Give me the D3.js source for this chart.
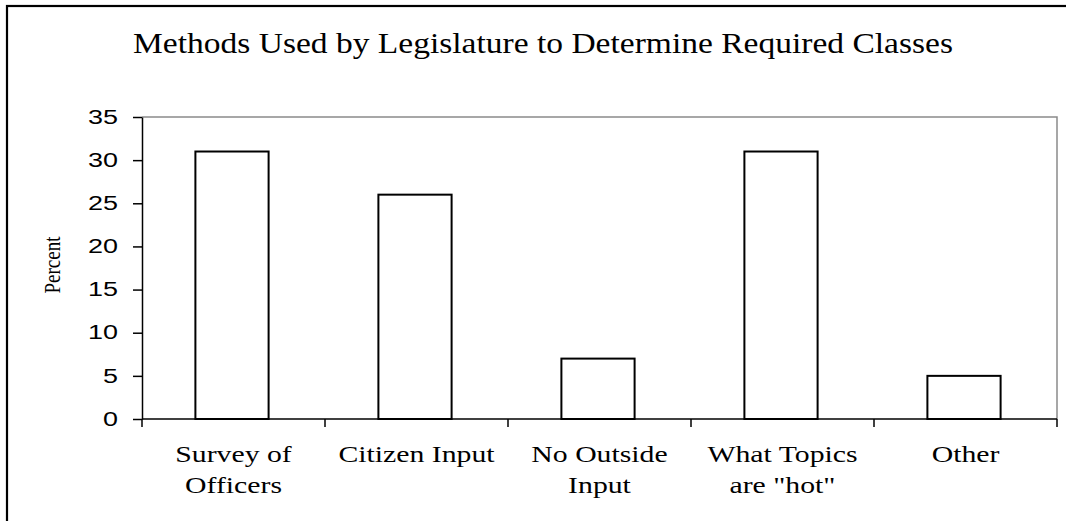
<!DOCTYPE html>
<html>
<head>
<meta charset="utf-8">
<script src="https://cdn.jsdelivr.net/npm/d3@7"></script>
<style>
html,body{margin:0;padding:0;background:#fff;}
svg{display:block;}
</style>
</head>
<body>
<svg id="chart" width="1066" height="521"></svg>
<script>
const categories = [["Survey of","Officers"],["Citizen Input"],["No Outside","Input"],["What Topics","are \"hot\""],["Other"]];
const values = [31, 26, 7, 31, 5];
const yTicks = [0, 5, 10, 15, 20, 25, 30, 35];
const title = "Methods Used by Legislature to Determine Required Classes";
const yLabel = "Percent";

const svg = d3.select("#chart");
const m = {left: 142, right: 1057, top: 117, bottom: 419};

// outer border
svg.append("rect").attr("x", 7).attr("y", 6).attr("width", 1200).attr("height", 700)
  .attr("fill", "#fff").attr("stroke", "#000").attr("stroke-width", 2.2);

const keys = categories.map((c, i) => i);
const x = d3.scaleBand().domain(keys).range([m.left, m.right]).paddingInner(0.6).paddingOuter(0.3);
const y = d3.scaleLinear().domain([0, 35]).range([m.bottom, m.top]);

// plot frame (top & right gray)
svg.append("path")
  .attr("d", `M${m.left},${m.top}H${m.right}V${m.bottom}`)
  .attr("fill", "none").attr("stroke", "#8a8a8a").attr("stroke-width", 1.5);

// bars
svg.append("g").selectAll("rect").data(values).join("rect")
  .attr("x", (d, i) => x(i) - 1.5)
  .attr("y", d => y(d))
  .attr("width", x.bandwidth())
  .attr("height", d => y(0) - y(d))
  .attr("fill", "#fff").attr("stroke", "#000").attr("stroke-width", 2);

// y axis
const yAxis = svg.append("g").attr("transform", `translate(${m.left},0)`)
  .call(d3.axisLeft(y).tickValues(yTicks).tickSize(9).tickPadding(15).tickSizeOuter(0));
yAxis.select(".domain").attr("stroke", "#000").attr("stroke-width", 1.5);
yAxis.selectAll(".tick line").attr("stroke", "#000").attr("stroke-width", 1.5);
yAxis.selectAll(".tick text")
  .attr("font-family", "'Liberation Sans', Arial, sans-serif")
  .attr("font-size", 19.5).attr("fill", "#000")
  .attr("textLength", d => String(d).length * 15)
  .attr("lengthAdjust", "spacingAndGlyphs");

// x axis (ticks at category boundaries)
const step = x.step();
const bounds = d3.range(categories.length + 1).map(i => m.left + i * step);
const xg = svg.append("g");
xg.append("line").attr("x1", m.left).attr("x2", m.right).attr("y1", m.bottom).attr("y2", m.bottom)
  .attr("stroke", "#000").attr("stroke-width", 1.5);
xg.selectAll("line.t").data(bounds).join("line").attr("class", "t")
  .attr("x1", d => d).attr("x2", d => d).attr("y1", m.bottom).attr("y2", m.bottom + 8)
  .attr("stroke", "#000").attr("stroke-width", 1.5);

// category labels
const labG = svg.append("g");
categories.forEach((lines, i) => {
  const cx = x(i) + x.bandwidth() / 2;
  lines.forEach((ln, j) => {
    labG.append("text")
      .attr("transform", `translate(${cx},${462 + j * 31}) scale(1.24,1)`)
      .attr("text-anchor", "middle")
      .attr("font-family", "'Liberation Serif', 'Times New Roman', serif")
      .attr("font-size", 24).attr("fill", "#000")
      .text(ln);
  });
});

// title
svg.append("text")
  .attr("x", 543).attr("y", 53)
  .attr("text-anchor", "middle")
  .attr("font-family", "'Liberation Serif', 'Times New Roman', serif")
  .attr("font-size", 29).attr("fill", "#000")
  .attr("textLength", 820).attr("lengthAdjust", "spacingAndGlyphs")
  .text(title);

// y label
svg.append("text")
  .attr("transform", `translate(60,265) rotate(-90) scale(1,1.25)`)
  .attr("text-anchor", "middle")
  .attr("font-family", "'Liberation Serif', 'Times New Roman', serif")
  .attr("font-size", 19).attr("fill", "#000")
  .text(yLabel);
</script>
</body>
</html>
